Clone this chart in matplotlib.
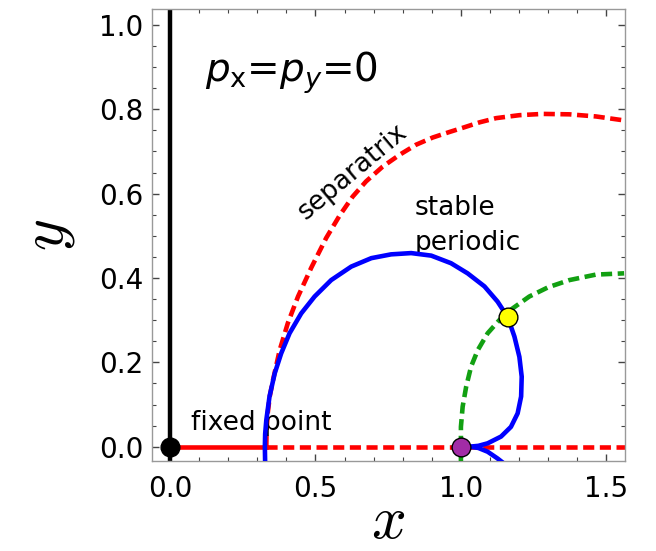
import matplotlib
matplotlib.use("Agg")
import matplotlib.pyplot as plt
from matplotlib.ticker import MultipleLocator

# separatrix (red dashed)
sep_x = [0.331, 0.332, 0.336, 0.343, 0.354, 0.377, 0.405, 0.440, 0.486, 0.537,
         0.583, 0.628, 0.674, 0.731, 0.789, 0.846, 0.903, 0.960, 1.006, 1.064,
         1.121, 1.201, 1.281, 1.373, 1.464, 1.567]
sep_y = [0.000, 0.040, 0.080, 0.120, 0.158, 0.229, 0.293, 0.356, 0.425, 0.495,
         0.548, 0.593, 0.629, 0.664, 0.692, 0.716, 0.733, 0.746, 0.756, 0.769,
         0.779, 0.786, 0.789, 0.788, 0.783, 0.773]

# stable periodic orbit (blue)
orb_x = [0.327, 0.326, 0.327, 0.331, 0.342, 0.360, 0.382, 0.411, 0.451, 0.497,
         0.554, 0.623, 0.692, 0.760, 0.829, 0.898, 0.966, 1.023, 1.081, 1.126,
         1.161, 1.184, 1.201, 1.209, 1.207, 1.195, 1.172, 1.138, 1.092, 1.060,
         1.030]
orb_y = [-0.040, 0.000, 0.030, 0.063, 0.119, 0.174, 0.221, 0.269, 0.316, 0.356,
         0.395, 0.427, 0.447, 0.456, 0.459, 0.453, 0.435, 0.411, 0.380, 0.344,
         0.307, 0.261, 0.213, 0.166, 0.119, 0.079, 0.047, 0.024, 0.008, 0.002,
         0.000]
orb2_x = [1.030, 1.060, 1.092, 1.126, 1.152]
orb2_y = [0.000, -0.003, -0.012, -0.028, -0.042]

# green dashed branch
grn_x = [1.000, 1.000, 1.000, 1.006, 1.018, 1.035, 1.058, 1.092, 1.132, 1.178,
         1.235, 1.300, 1.373, 1.464, 1.561]
grn_y = [-0.040, 0.000, 0.047, 0.095, 0.142, 0.190, 0.229, 0.269, 0.300, 0.328,
         0.356, 0.378, 0.395, 0.408, 0.411]

# y = 0 line: solid to the separatrix foot, dashed beyond
solid_x = [0.0, 0.331]
dash_x = [0.331, 1.6]

# marked points: fixed point, purple, yellow
pts_x = [0.0, 1.0, 1.161]
pts_y = [0.0, 0.0, 0.307]
pts_c = ['black', '#a22ca6', '#ffff00']

plt.rcParams['font.family'] = ['DejaVu Sans']
plt.rcParams['lines.scale_dashes'] = False

fig = plt.figure(figsize=(6.56, 5.51), dpi=100)
ax = fig.add_axes([0.2317, 0.1633, 0.7210, 0.8198])

dash = (0, (8.0, 4.0))
lw = 3.3
ax.axvline(0.0, color='black', lw=3.2, zorder=2)
ax.plot(solid_x, [0, 0], color='red', lw=lw, zorder=2)
ax.plot(dash_x, [0, 0], color='red', lw=lw, ls=dash, zorder=2)
ax.plot(sep_x, sep_y, color='red', lw=lw, ls=dash, zorder=2)
ax.plot(grn_x, grn_y, color='#12a012', lw=lw, ls=dash, zorder=3)
ax.plot(orb_x, orb_y, color='blue', lw=lw, zorder=4, solid_joinstyle='round')
ax.plot(orb2_x, orb2_y, color='blue', lw=lw, zorder=4)
for x, y, c in zip(pts_x, pts_y, pts_c):
    ax.plot(x, y, 'o', ms=13.5, mfc=c, mec='black', mew=1.0, zorder=6,
            clip_on=False)

ax.set_xlim(-0.062, 1.564)
ax.set_ylim(-0.034, 1.037)
ax.xaxis.set_major_locator(MultipleLocator(0.5))
ax.xaxis.set_minor_locator(MultipleLocator(0.1))
ax.yaxis.set_major_locator(MultipleLocator(0.2))
ax.yaxis.set_minor_locator(MultipleLocator(0.05))
ax.xaxis.set_major_formatter(lambda v, p: f'{v:.1f}')
ax.yaxis.set_major_formatter(lambda v, p: f'{v:.1f}')
ax.tick_params(which='both', direction='in', top=True, right=True,
               color='#444444', labelsize=20)
ax.tick_params(axis='x', which='major', length=5, width=1, pad=10)
ax.tick_params(axis='y', which='major', length=5, width=1, pad=6)
ax.tick_params(which='minor', length=3, width=0.8)
for s in ax.spines.values():
    s.set_color('#999999')
    s.set_linewidth(1.0)

ax.set_xlabel(r'$x$', fontsize=44, math_fontfamily='cm', labelpad=-8)
ax.set_ylabel(r'$y$', fontsize=44, math_fontfamily='cm', labelpad=16)

ax.text(0.119, 0.865, r'$p_{\mathrm{x}}$=$p_y$=0', fontsize=28,
        ha='left', va='baseline')
ax.text(0.629, 0.652, 'separatrix', fontsize=19, rotation=40,
        ha='center', va='center', rotation_mode='anchor')
ax.text(0.840, 0.550, 'stable', fontsize=19, ha='left', va='baseline')
ax.text(0.840, 0.466, 'periodic', fontsize=19, ha='left', va='baseline')
ax.text(0.073, 0.040, 'fixed point', fontsize=19, ha='left', va='baseline')

fig.savefig('out.png', dpi=100)
